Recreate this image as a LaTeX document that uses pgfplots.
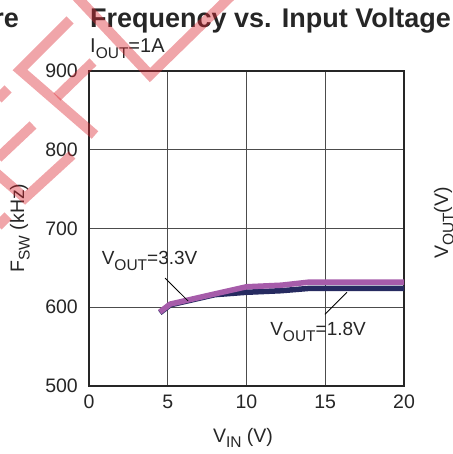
\documentclass[border=0pt]{standalone}
\usepackage{pgfplots}
\pgfplotsset{compat=1.18}
\usepackage{fontspec}
\setmainfont{Liberation Sans}
\definecolor{cmag}{RGB}{166,92,170}
\definecolor{cnavy}{RGB}{38,42,96}
\definecolor{cwm}{RGB}{220,40,50}
\newcommand{\fs}[1]{\fontsize{#1}{#1}\selectfont}
\newcommand{\sub}[1]{\raisebox{-5.5bp}{\fs{15.5bp}#1}}
\begin{document}
\begin{tikzpicture}
\begin{axis}[
  at={(89bp,68bp)}, anchor=south west,
  scale only axis, width=315bp, height=315bp,
  xmin=0, xmax=20, ymin=500, ymax=900,
  xtick={0,5,10,15,20}, ytick={500,600,700,800,900},
  major tick length=0pt,
  grid=major,
  grid style={line width=1bp, black!70},
  axis line style={line width=1.8bp, black!85},
  /pgf/number format/assume math mode=true,
  ticklabel style={font=\fs{19.5bp}, text=black!85},
  xticklabel style={inner sep=0pt, anchor=north, yshift=-9bp},
  yticklabel style={inner sep=0pt, anchor=east, xshift=-11bp},
  clip=false,
]
\addplot[cnavy, line width=5.5bp, line join=round] coordinates {
 (4.5,593) (5.15,603) (8,616) (10,619) (12.2,621) (14,624) (20,624)};
\addplot[cmag, line width=5.5bp, line join=round] coordinates {
 (4.5,594) (5.15,604) (8,617) (10,626) (12.2,628) (14,632) (20,632)};
\draw[black, line width=0.8bp] (axis cs:4.83,637) -- (axis cs:6.29,608);
\draw[black, line width=0.8bp] (axis cs:14.98,591) -- (axis cs:16.38,619);
\node[anchor=base west, inner sep=0pt, font=\fs{19bp}, text=black!85] at (axis cs:0.8,654) {V\sub{OUT}=3.3V};
\node[anchor=base west, inner sep=0pt, font=\fs{19bp}, text=black!85] at (axis cs:11.5,564) {V\sub{OUT}=1.8V};
\end{axis}
% titles and labels (px coords, y from top)
\node[anchor=base east, inner sep=0pt, font=\fs{27bp}\bfseries, text=black!85] at (19bp,426bp) {re};
\node[anchor=base west, inner sep=0pt, font=\fs{27bp}\bfseries, text=black!85] at (90bp,426bp) {Frequency vs. Input Voltage};
\node[anchor=base west, inner sep=0pt, font=\fs{20bp}, text=black!85] at (90bp,401bp) {I\sub{OUT}=1A};
\node[inner sep=0pt, font=\fs{19.5bp}, text=black!85] at (243bp,16bp) {V\sub{IN} (V)};
\node[inner sep=0pt, font=\fs{19.5bp}, text=black!85, rotate=90] at (20bp,226bp) {F\sub{SW} (kHz)};
\node[inner sep=0pt, font=\fs{19.5bp}, text=black!85, rotate=90, anchor=base] at (448bp,231bp) {V\sub{OUT}(V)};
% watermark
\begin{scope}[cwm, opacity=0.42, line width=10bp, line join=miter]
\draw (75bp,459bp) -- (150bp,379bp) -- (232bp,459bp);
\draw (70bp,434bp) -- (20bp,384bp) -- (95bp,319bp);
\draw (57bp,357bp) -- (93bp,392bp);
\draw (33bp,329bp) -- (-2bp,296bp);
\draw (72bp,299bp) -- (25bp,256bp) -- (-5bp,282bp);
\draw (-2bp,355bp) -- (8bp,365bp);
\draw (-2bp,228bp) -- (8bp,238bp);
\end{scope}
\pgfresetboundingbox
\path[use as bounding box] (0,0) rectangle (453bp,454bp);
\end{tikzpicture}
\end{document}
